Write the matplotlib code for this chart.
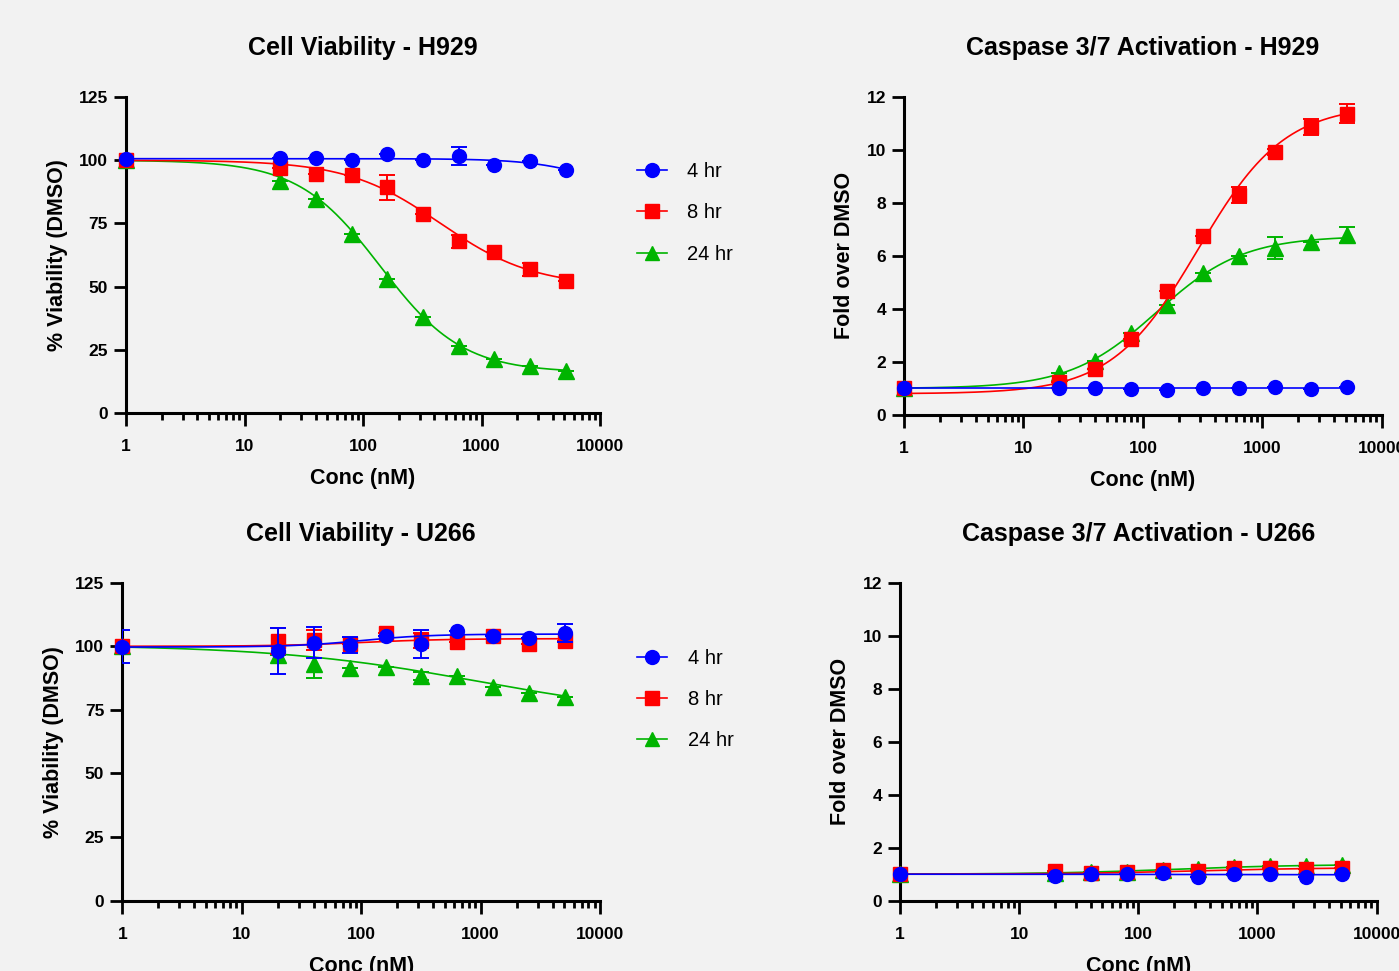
import numpy as np
import matplotlib
matplotlib.use("Agg")
import matplotlib.pyplot as plt
from matplotlib.ticker import LogLocator, FixedLocator, NullFormatter
from matplotlib.lines import Line2D

plt.rcParams['font.family'] = ['Liberation Sans', 'DejaVu Sans']

# concentrations (nM); the vehicle point is plotted at 1
conc = [1, 20, 40, 80, 160, 320, 640, 1280, 2560, 5120]
labels = ['4 hr', '8 hr', '24 hr']
colors = ['#0000ff', '#ff0000', '#00b400']
markers = ['o', 's', '^']

# Cell viability - H929 (% of DMSO)
via_h929_4 = [100.3, 100.7, 100.9, 100.0, 102.4, 100.0, 101.6, 98.0, 99.6, 96.0]
via_h929_8 = [100.0, 97.1, 94.5, 94.1, 89.2, 78.7, 67.9, 63.6, 56.8, 52.1]
via_h929_24 = [100.0, 91.7, 84.5, 70.8, 53.0, 37.8, 26.3, 21.3, 18.4, 16.7]
via_h929_4_err = [0.9, 0, 0, 0, 0, 0, 3.5, 0, 0, 0]
via_h929_8_err = [0, 0, 0, 0, 5.0, 0, 2.5, 0, 2.6, 0]
via_h929_24_err = [0, 0, 0, 0, 0, 0, 0, 0, 0, 0]

# Caspase 3/7 - H929 (fold over DMSO)
cas_h929_4 = [1.0, 1.0, 1.0, 0.97, 0.94, 1.0, 1.03, 1.06, 0.98, 1.06]
cas_h929_8 = [1.0, 1.26, 1.73, 2.87, 4.66, 6.74, 8.29, 9.92, 10.87, 11.36]
cas_h929_24 = [1.0, 1.57, 2.04, 3.09, 4.16, 5.35, 5.98, 6.3, 6.52, 6.8]
cas_h929_4_err = [0, 0, 0, 0, 0, 0, 0, 0, 0, 0]
cas_h929_8_err = [0, 0, 0, 0, 0, 0, 0.3, 0.1, 0.3, 0.35]
cas_h929_24_err = [0, 0, 0, 0, 0, 0, 0, 0.42, 0, 0.3]

# Cell viability - U266
via_u266_4 = [99.9, 98.3, 101.4, 100.5, 104.2, 101.0, 106.0, 104.2, 103.4, 105.1]
via_u266_8 = [100.0, 102.0, 102.6, 101.0, 105.4, 102.4, 101.7, 104.0, 101.0, 102.2]
via_u266_24 = [100.1, 96.5, 92.9, 91.3, 92.0, 88.3, 88.3, 84.1, 81.5, 80.2]
via_u266_4_err = [6.5, 9.0, 6.0, 3.0, 0, 5.5, 0, 0, 0, 3.5]
via_u266_8_err = [0, 5.0, 4.0, 0, 0, 3.0, 0, 0, 0, 0]
via_u266_24_err = [0, 0, 5.5, 0, 0, 1.5, 0, 0, 0, 0]

# Caspase 3/7 - U266
cas_u266_4 = [1.0, 0.93, 0.99, 0.99, 1.03, 0.9, 1.0, 1.0, 0.9, 0.99]
cas_u266_8 = [1.0, 1.12, 1.03, 1.07, 1.16, 1.13, 1.25, 1.22, 1.2, 1.25]
cas_u266_24 = [1.0, 1.03, 1.08, 1.1, 1.17, 1.2, 1.28, 1.32, 1.32, 1.33]
zero_err = [0] * 10

# 4PL fit parameters: low-dose plateau, high-dose plateau, EC50, hill
fit_via_h929 = [(100.6, 85, 10000, 1.5), (100, 50, 450, 1.1), (100, 16, 140, 1.25)]
fit_cas_h929 = [(1.0, 1.0, 100, 1.0), (0.8, 11.7, 290, 1.2), (1.0, 6.75, 130, 1.2)]
fit_via_u266 = [(99.7, 104.8, 100, 1.5), (100.0, 103.0, 100, 1.2), (100.6, 71.5, 1000, 0.5)]
fit_cas_u266 = [(1.0, 0.98, 100, 1.0), (1.0, 1.25, 300, 0.8), (1.0, 1.37, 200, 0.8)]


def four_pl(x, start, end, ec50, hill):
	return start + (end - start) / (1 + (ec50 / x) ** hill)


def draw_panel(ax, values, errs, fits, title, ylabel, ymax, ystep, legend):
	xs = np.logspace(0, np.log10(conc[-1]), 300)
	# 24 hr at the bottom, 4 hr on top
	for i in [2, 1, 0]:
		z = 2 + 2 * (2 - i)
		ax.plot(xs, four_pl(xs, *fits[i]), color=colors[i], lw=1.2, zorder=z)
		ax.errorbar(conc, values[i], yerr=errs[i], fmt='none', ecolor=colors[i],
			elinewidth=1.4, capsize=6, capthick=1.4, zorder=z)
		ax.plot(conc, values[i], ls='none', marker=markers[i], color=colors[i],
			ms=10 if i < 2 else 11, mec=colors[i], zorder=z + 1, clip_on=False)

	ax.set_xscale('log')
	ax.set_xlim(1, 10000)
	ax.set_ylim(0, ymax)
	ax.xaxis.set_major_locator(FixedLocator([1, 10, 100, 1000, 10000]))
	ax.set_xticklabels(['1', '10', '100', '1000', '10000'])
	ax.xaxis.set_minor_locator(LogLocator(base=10, subs=np.arange(2, 10), numticks=20))
	ax.xaxis.set_minor_formatter(NullFormatter())
	ax.set_yticks(np.arange(0, ymax + 0.01, ystep))

	for s in ['top', 'right']:
		ax.spines[s].set_visible(False)
	for s in ['left', 'bottom']:
		ax.spines[s].set_linewidth(2.2)
		ax.spines[s].set_color('black')
	ax.tick_params(which='major', length=9, width=2, direction='out', labelsize=12.5)
	ax.tick_params(axis='x', which='major', pad=10)
	ax.tick_params(axis='y', which='major', pad=4)
	ax.tick_params(which='minor', length=5, width=2, direction='out')
	for lab in ax.get_xticklabels() + ax.get_yticklabels():
		lab.set_fontweight('bold')
	ax.set_facecolor('none')

	ax.set_title(title, fontsize=18, fontweight='bold', pad=30)
	ax.set_xlabel('Conc (nM)', fontsize=15.5, fontweight='bold', labelpad=10)
	ax.set_ylabel(ylabel, fontsize=15.5, fontweight='bold', labelpad=8)

	if legend:
		handles = [Line2D([], [], color=colors[i], marker=markers[i], ms=10, lw=1.2)
			for i in range(3)]
		ax.legend(handles, labels, loc='center left', bbox_to_anchor=(1.04, 0.633),
			frameon=False, fontsize=14.5, handlelength=1.5, handletextpad=1.0,
			labelspacing=1.1)


fig = plt.figure(figsize=(13.99, 9.71), dpi=100)
fig.patch.set_facecolor('#f2f2f2')

ax1 = fig.add_axes([0.0901, 0.5747, 0.3388, 0.3254])
ax2 = fig.add_axes([0.6462, 0.5726, 0.3415, 0.3278])
ax3 = fig.add_axes([0.0874, 0.0724, 0.3415, 0.3275])
ax4 = fig.add_axes([0.6433, 0.0724, 0.3407, 0.3275])

draw_panel(ax1, [via_h929_4, via_h929_8, via_h929_24],
	[via_h929_4_err, via_h929_8_err, via_h929_24_err], fit_via_h929,
	'Cell Viability - H929', '% Viability (DMSO)', 125, 25, True)
draw_panel(ax2, [cas_h929_4, cas_h929_8, cas_h929_24],
	[cas_h929_4_err, cas_h929_8_err, cas_h929_24_err], fit_cas_h929,
	'Caspase 3/7 Activation - H929', 'Fold over DMSO', 12, 2, False)
draw_panel(ax3, [via_u266_4, via_u266_8, via_u266_24],
	[via_u266_4_err, via_u266_8_err, via_u266_24_err], fit_via_u266,
	'Cell Viability - U266', '% Viability (DMSO)', 125, 25, True)
draw_panel(ax4, [cas_u266_4, cas_u266_8, cas_u266_24],
	[zero_err, zero_err, zero_err], fit_cas_u266,
	'Caspase 3/7 Activation - U266', 'Fold over DMSO', 12, 2, False)

fig.savefig('out.png', dpi=100, facecolor=fig.get_facecolor())
